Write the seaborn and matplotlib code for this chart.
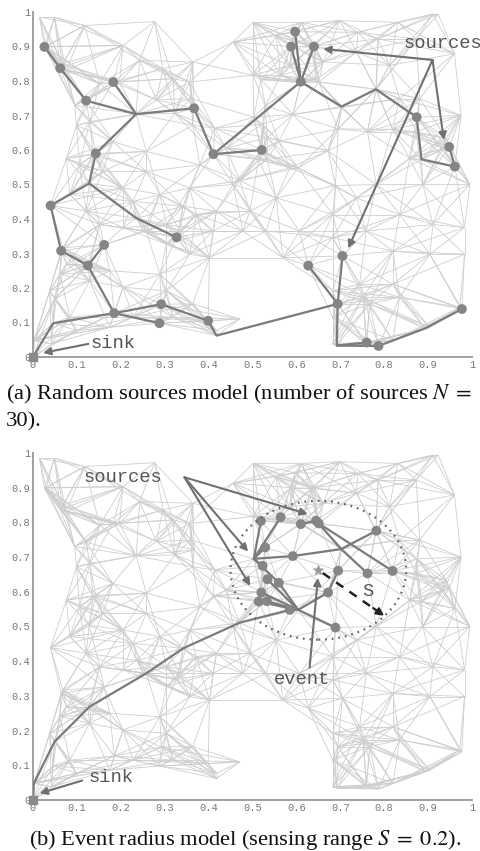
import numpy as np
import matplotlib
matplotlib.use("Agg")
import matplotlib.pyplot as plt
import matplotlib.patches as mpatches
from matplotlib.collections import LineCollection
import seaborn as sns
import pandas as pd

sns.set_theme(style="white")
plt.rcParams['font.family'] = ['Liberation Mono', 'DejaVu Sans']
plt.rcParams['mathtext.fontset'] = 'stix'

# ---------------- data ----------------
tick_vals = [0, 0.1, 0.2, 0.3, 0.4, 0.5, 0.6, 0.7, 0.8, 0.9, 1]
tick_labels = ["0", "0.1", "0.2", "0.3", "0.4", "0.5", "0.6", "0.7", "0.8", "0.9", "1"]

# background sensor nodes
mesh_x = [0.015, 0.049, 0.118, 0.030, 0.068, 0.205, 0.277, 0.364, 0.501, 0.554, 0.611, 0.699,
          0.740, 0.786, 0.831, 0.911, 0.960, 0.873, 0.812, 0.634, 0.585, 0.501, 0.456, 0.243,
          0.296, 0.319, 0.357, 0.361, 0.281, 0.197, 0.152, 0.076, 0.095, 0.129, 0.099, 0.076,
          0.106, 0.137, 0.159, 0.182, 0.258, 0.258, 0.205, 0.084, 0.121, 0.152, 0.228, 0.289,
          0.357, 0.380, 0.414, 0.364, 0.323, 0.440, 0.456, 0.418, 0.372, 0.334, 0.304, 0.304,
          0.251, 0.205, 0.068, 0.076, 0.061, 0.129, 0.175, 0.205, 0.038, 0.084, 0.099, 0.175,
          0.228, 0.289, 0.304, 0.319, 0.364, 0.418, 0.471, 0.357, 0.402, 0.410, 0.478, 0.494,
          0.554, 0.531, 0.569, 0.607, 0.683, 0.683, 0.759, 0.820, 0.904, 0.983, 0.983, 0.911,
          0.835, 0.888, 0.934, 0.995, 0.941, 0.873, 0.858, 0.782, 0.737, 0.835, 0.881, 0.737,
          0.661, 0.744, 0.683, 0.752, 0.767, 0.820, 0.835, 0.972, 0.904, 0.820, 0.759, 0.683,
          0.683, 0.004, 0.042, 0.975, 0.923]
mesh_y = [0.985, 0.985, 0.961, 0.900, 0.850, 0.903, 0.972, 0.855, 0.970, 0.932, 0.970, 0.975,
          0.941, 0.922, 0.970, 0.994, 0.879, 0.922, 0.845, 0.898, 0.845, 0.817, 0.913, 0.860,
          0.836, 0.807, 0.797, 0.749, 0.745, 0.797, 0.792, 0.831, 0.730, 0.682, 0.672, 0.576,
          0.557, 0.586, 0.538, 0.624, 0.596, 0.538, 0.490, 0.471, 0.423, 0.384, 0.451, 0.471,
          0.490, 0.557, 0.663, 0.672, 0.706, 0.605, 0.500, 0.423, 0.413, 0.365, 0.384, 0.327,
          0.365, 0.375, 0.317, 0.269, 0.240, 0.221, 0.250, 0.202, 0.192, 0.115, 0.077, 0.086,
          0.115, 0.240, 0.192, 0.115, 0.154, 0.077, 0.110, 0.298, 0.288, 0.365, 0.365, 0.423,
          0.461, 0.365, 0.288, 0.365, 0.413, 0.346, 0.365, 0.307, 0.298, 0.298, 0.375, 0.384,
          0.413, 0.500, 0.605, 0.500, 0.634, 0.653, 0.576, 0.500, 0.461, 0.749, 0.749, 0.884,
          0.855, 0.211, 0.192, 0.173, 0.154, 0.211, 0.173, 0.144, 0.086, 0.048, 0.038, 0.038,
          0.115, 0.048, 0.038, 0.700, 0.994]

sink = (0.0, 0.0)

# (a) random sources model: 30 source nodes
src_a_x = [0.026, 0.062, 0.121, 0.183, 0.367, 0.411, 0.143, 0.521, 0.597, 0.588, 0.640, 0.610,
           0.874, 0.948, 0.961, 0.040, 0.064, 0.125, 0.162, 0.327, 0.185, 0.292, 0.288, 0.399,
           0.705, 0.627, 0.694, 0.760, 0.787, 0.977]
src_a_y = [0.899, 0.837, 0.743, 0.797, 0.721, 0.588, 0.590, 0.600, 0.943, 0.900, 0.900, 0.798,
           0.695, 0.609, 0.552, 0.439, 0.308, 0.265, 0.325, 0.347, 0.127, 0.153, 0.098, 0.105,
           0.293, 0.265, 0.154, 0.042, 0.032, 0.139]

# (a) aggregation tree (polylines)
routes_a = [
    [(0.0, 0.0), (0.046, 0.098), (0.185, 0.127), (0.292, 0.153), (0.399, 0.105), (0.418, 0.062), (0.694, 0.154)],
    [(0.185, 0.127), (0.288, 0.098)],
    [(0.185, 0.127), (0.125, 0.265), (0.064, 0.308), (0.040, 0.439), (0.128, 0.503), (0.143, 0.590),
     (0.235, 0.704), (0.121, 0.743), (0.062, 0.837), (0.026, 0.899)],
    [(0.125, 0.265), (0.162, 0.325)],
    [(0.128, 0.503), (0.236, 0.402), (0.327, 0.347)],
    [(0.235, 0.704), (0.183, 0.797)],
    [(0.235, 0.704), (0.367, 0.721), (0.411, 0.588), (0.521, 0.600)],
    [(0.411, 0.588), (0.610, 0.798), (0.597, 0.943)],
    [(0.610, 0.798), (0.588, 0.900)],
    [(0.610, 0.798), (0.640, 0.900)],
    [(0.610, 0.798), (0.703, 0.726), (0.781, 0.776), (0.874, 0.695), (0.885, 0.573), (0.961, 0.552), (0.948, 0.609)],
    [(0.694, 0.154), (0.705, 0.293)],
    [(0.694, 0.154), (0.627, 0.265)],
    [(0.694, 0.154), (0.692, 0.033), (0.760, 0.042)],
    [(0.692, 0.033), (0.787, 0.032), (0.893, 0.083), (0.977, 0.139)],
]

# (b) event radius model
event = (0.650, 0.662)
sensing_range = 0.2
src_b_x = [0.519, 0.564, 0.610, 0.645, 0.651, 0.782, 0.529, 0.592, 0.523, 0.695, 0.762, 0.819,
           0.534, 0.560, 0.520, 0.514, 0.533, 0.672, 0.689, 0.585]
src_b_y = [0.804, 0.815, 0.795, 0.805, 0.797, 0.776, 0.728, 0.703, 0.675, 0.661, 0.653, 0.660,
           0.636, 0.626, 0.598, 0.572, 0.573, 0.598, 0.497, 0.548]

routes_b = [
    [(0.0, 0.0), (0.002, 0.048), (0.049, 0.168), (0.129, 0.269), (0.258, 0.365), (0.342, 0.437),
     (0.471, 0.511), (0.585, 0.548), (0.604, 0.548)],
    [(0.519, 0.804), (0.503, 0.695), (0.564, 0.815)],
    [(0.503, 0.695), (0.529, 0.728)],
    [(0.503, 0.695), (0.592, 0.703), (0.702, 0.723), (0.782, 0.776)],
    [(0.610, 0.795), (0.645, 0.805), (0.702, 0.723), (0.762, 0.653)],
    [(0.651, 0.797), (0.819, 0.660)],
    [(0.503, 0.695), (0.523, 0.675)],
    [(0.503, 0.695), (0.560, 0.626), (0.604, 0.548)],
    [(0.534, 0.636), (0.604, 0.548)],
    [(0.520, 0.598), (0.604, 0.548)],
    [(0.514, 0.572), (0.604, 0.548)],
    [(0.533, 0.573), (0.604, 0.548)],
    [(0.604, 0.548), (0.672, 0.598), (0.695, 0.661)],
    [(0.604, 0.548), (0.689, 0.497)],
]

# ---------------- network edges (k nearest neighbours within radio range) ----------------
all_pts = [(x, y) for x, y in zip(mesh_x, mesh_y)]
all_pts += [(x, y) for x, y in zip(src_a_x, src_a_y)]
all_pts += [(x, y) for x, y in zip(src_b_x, src_b_y)]
for r in routes_a + routes_b:
    all_pts += r
P = np.unique(np.round(np.array(all_pts), 3), axis=0)
D = np.hypot(P[:, None, 0] - P[None, :, 0], P[:, None, 1] - P[None, :, 1])
K = 11
RANGE = 0.185
edges = set()
for i in range(len(P)):
    nn = np.argsort(D[i])[1:K + 1]
    for j in nn:
        if D[i, j] < RANGE:
            edges.add((min(i, j), max(i, j)))
mesh_segs = [[P[i], P[j]] for i, j in edges]

# ---------------- figure ----------------
W, H = 481, 851
fig = plt.figure(figsize=(W / 100, H / 100), dpi=100)
ax_a = fig.add_axes([33 / W, 1 - 357 / H, 439 / W, 345 / H])
ax_b = fig.add_axes([33 / W, 1 - 800 / H, 439 / W, 347 / H])

MESH = '#cecece'
ROUTE = '#7b7b7b'
DOT = '#858585'
TXT = '#555555'
ARR = '#707070'
TFS = 13.5


def base(ax, src_x, src_y, routes):
    ax.set_xlim(0, 1)
    ax.set_ylim(0, 1)
    ax.add_collection(LineCollection(mesh_segs, colors=MESH, linewidths=0.6, zorder=1))
    segs = [np.array(r) for r in routes]
    ax.add_collection(LineCollection(segs, colors=ROUTE, linewidths=1.6, zorder=3,
                                     capstyle='round', joinstyle='round'))
    df = pd.DataFrame({'x': src_x, 'y': src_y})
    sns.scatterplot(data=df, x='x', y='y', color=DOT, s=50, edgecolor='none', zorder=4,
                    ax=ax, legend=False)
    ax.scatter([sink[0]], [sink[1]], marker='s', s=36, color='#8a8a8a', zorder=5, clip_on=False)
    ax.set_xlabel('')
    ax.set_ylabel('')
    ax.set_xticks(tick_vals)
    ax.set_xticklabels(tick_labels)
    ax.set_yticks(tick_vals)
    ax.set_yticklabels(tick_labels)
    ax.tick_params(direction='in', length=4, width=0.8, color='#999999', labelcolor='#777777',
                   labelsize=7.5, pad=2)
    for s in ['top', 'right']:
        ax.spines[s].set_visible(False)
    for s in ['left', 'bottom']:
        ax.spines[s].set_color('#a0a0a0')
        ax.spines[s].set_linewidth(1.4)
    ax.set_facecolor('white')


def arrow(ax, tail, tip, color=ARR, lw=1.5):
    ax.annotate('', xy=tip, xytext=tail,
                arrowprops=dict(arrowstyle='-|>', color=color, lw=lw, mutation_scale=11,
                                shrinkA=0, shrinkB=0), zorder=6, annotation_clip=False)


# ----- panel (a)
base(ax_a, src_a_x, src_a_y, routes_a)
ax_a.text(0.843, 0.909, 'sources', color=TXT, fontsize=TFS, ha='left', va='center',
          clip_on=False, zorder=7)
for tip in [(0.661, 0.893), (0.936, 0.629), (0.718, 0.315)]:
    arrow(ax_a, (0.910, 0.861), tip)
ax_a.text(0.130, 0.040, 'sink', color=TXT, fontsize=TFS, ha='left', va='center', zorder=7)
arrow(ax_a, (0.126, 0.038), (0.023, 0.012))

# ----- panel (b)
base(ax_b, src_b_x, src_b_y, routes_b)
ax_b.add_patch(mpatches.Circle(event, sensing_range, fill=False, edgecolor='#666666',
                               linewidth=1.6, linestyle=(0, (0.8, 2.2)), zorder=5))
ax_b.scatter([event[0]], [event[1]], marker='*', s=45, color='#9a9a9a', zorder=6)
ax_b.text(0.205, 0.930, 'sources', color=TXT, fontsize=TFS, ha='center', va='center', zorder=7)
for tip in [(0.626, 0.824), (0.490, 0.716), (0.495, 0.617)]:
    arrow(ax_b, (0.345, 0.930), tip)
ax_b.text(0.126, 0.064, 'sink', color=TXT, fontsize=TFS, ha='left', va='center', zorder=7)
arrow(ax_b, (0.112, 0.056), (0.015, 0.019))
ax_b.text(0.613, 0.346, 'event', color=TXT, fontsize=TFS, ha='center', va='center', zorder=7)
arrow(ax_b, (0.630, 0.381), (0.649, 0.640))
ax_b.text(0.763, 0.602, 'S', color=TXT, fontsize=TFS, ha='center', va='center', zorder=7)
ax_b.plot([event[0] + 0.01, 0.785], [event[1] - 0.008, 0.544], color='#222222', lw=1.8,
          linestyle=(0, (3.5, 3)), zorder=6)
arrow(ax_b, (0.775, 0.553), (0.800, 0.531), color='#222222', lw=1.6)

# ----- captions
serif = ['Liberation Serif', 'DejaVu Serif']
CFS = 16.2
fig.text(6 / W, 1 - 394 / H, r'(a) Random sources model (number of sources $N\;=$',
         family=serif, fontsize=CFS, ha='left', va='center', color='#111111')
fig.text(6 / W, 1 - 422 / H, '30).', family=serif, fontsize=CFS, ha='left', va='center',
         color='#111111')
fig.text(245 / W, 1 - 840 / H, r'(b) Event radius model (sensing range $S\;=\;0.2$).',
         family=serif, fontsize=CFS, ha='center', va='center', color='#111111')

fig.savefig('out.png', dpi=100, facecolor='white')
